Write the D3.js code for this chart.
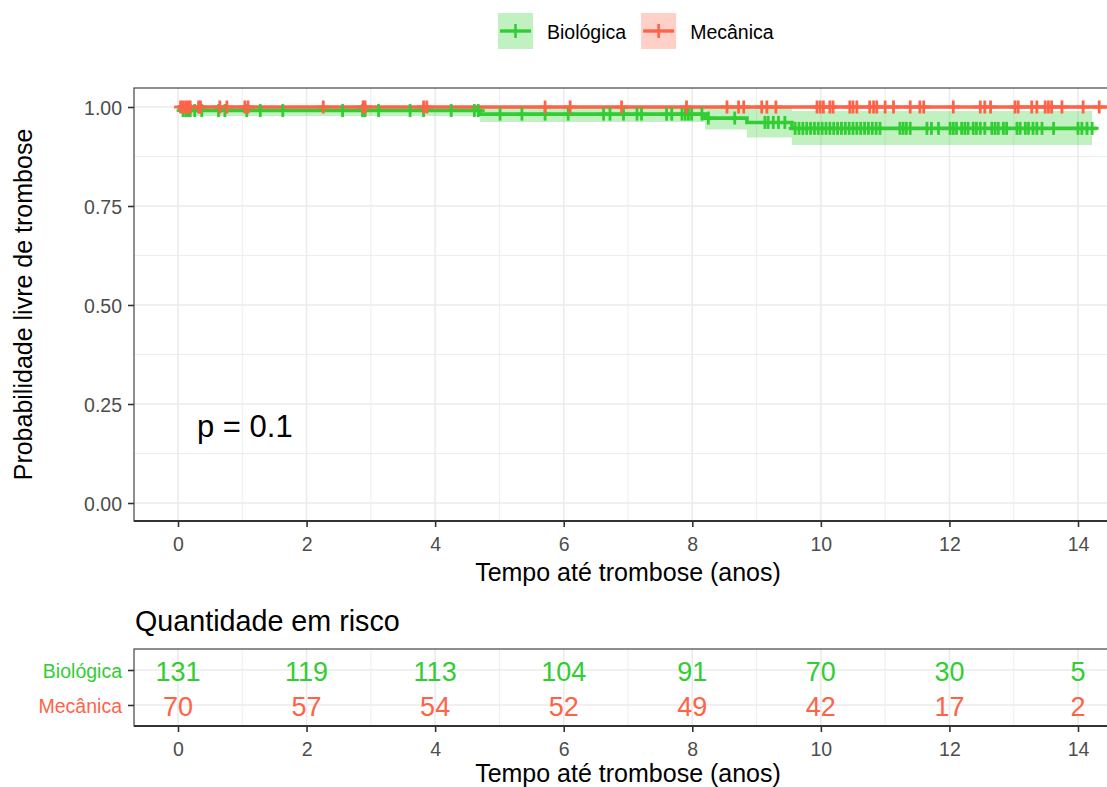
<!DOCTYPE html>
<html>
<head>
<meta charset="utf-8">
<script src="https://cdn.jsdelivr.net/npm/d3@7"></script>
<style>
  html, body { margin: 0; padding: 0; background: #fff; }
  svg { display: block; font-family: "Liberation Sans", Arial, Helvetica, sans-serif; }
</style>
</head>
<body>
<svg id="chart" width="1107" height="787"></svg>
<script>
// ---- Groups and colours ----
const groups = ["Biológica", "Mecânica"];
const groupColors = ["#32CD32", "#FF6347"];

// ---- Kaplan–Meier curve: Biológica ----
const bioEventTimes = [0.05, 4.70, 8.20, 8.85, 9.55];
const bioSurv       = [0.991, 0.982, 0.972, 0.961, 0.946];
const bioLower      = [0.977, 0.962, 0.943, 0.923, 0.904];
const bioUpper      = [1.000, 1.000, 1.000, 1.000, 0.990];
const bioLineEnd = 14.30;
const bioBandEnd = 14.22;
const bioCensor = [
  0.08, 0.12, 0.16, 0.19, 0.26, 0.37, 0.63, 0.73, 1.07, 1.28, 1.63, 2.56, 2.87, 2.91,
  3.12, 3.61, 3.82, 4.25, 4.61, 4.67, 5.01, 5.35, 5.71, 6.07, 6.62, 6.72, 6.93, 7.14,
  7.21, 7.60, 7.68, 7.84, 7.89, 7.94, 7.99, 8.15, 8.25, 8.66, 9.13, 9.18, 9.26, 9.34,
  9.44, 9.60, 9.66, 9.72, 9.78, 9.84, 9.90, 9.96, 10.02, 10.08, 10.14, 10.20, 10.26,
  10.32, 10.38, 10.44, 10.50, 10.56, 10.62, 10.68, 10.74, 10.80, 10.86, 10.92, 11.23,
  11.28, 11.33, 11.39, 11.65, 11.72, 11.83, 12.01, 12.06, 12.11, 12.19, 12.24, 12.29,
  12.37, 12.42, 12.48, 12.55, 12.66, 12.71, 12.76, 12.84, 12.89, 13.05, 13.10, 13.18,
  13.23, 13.30, 13.36, 13.44, 13.62, 14.00, 14.06, 14.14, 14.22
];

// ---- Kaplan–Meier curve: Mecânica (no events) ----
const mecEventTimes = [];
const mecSurv = [];
const mecLineEnd = 14.45;
const mecCensor = [
  0.04, 0.08, 0.12, 0.16, 0.19, 0.32, 0.35, 0.65, 0.76, 1.04, 1.09, 2.26, 2.88, 2.91,
  3.82, 3.87, 5.71, 6.10, 6.90, 7.91, 8.54, 8.72, 8.80, 9.08, 9.16, 9.30, 9.94, 9.99,
  10.04, 10.14, 10.19, 10.45, 10.50, 10.56, 10.76, 10.82, 10.87, 11.00, 11.13, 11.39,
  11.54, 11.60, 12.06, 12.48, 12.55, 12.64, 13.02, 13.07, 13.28, 13.36, 13.49, 13.54,
  13.59, 13.75, 14.08, 14.33
];

// ---- Axis ticks and text ----
const xTicks = [0, 2, 4, 6, 8, 10, 12, 14];
const xMinorTicks = [1, 3, 5, 7, 9, 11, 13];
const yTicks = [0, 0.25, 0.5, 0.75, 1];
const yMinorTicks = [0.125, 0.375, 0.625, 0.875];
const pValueLabel = "p = 0.1";
const xTitle = "Tempo até trombose (anos)";
const yTitle = "Probabilidade livre de trombose";
const riskTitle = "Quantidade em risco";

// ---- Number at risk ----
const riskTimes = [0, 2, 4, 6, 8, 10, 12, 14];
const bioRisk = [131, 119, 113, 104, 91, 70, 30, 5];
const mecRisk = [70, 57, 54, 52, 49, 42, 17, 2];

// ================= drawing =================
const svg = d3.select("#chart");
svg.append("rect").attr("width", 1107).attr("height", 787).attr("fill", "#fff");

const x = d3.scaleLinear().domain([0, 14]).range([178, 1078]);
const y = d3.scaleLinear().domain([0, 1]).range([503, 107]);

const main = { left: 134, top: 88, bottom: 521, right: 1122 };
const risk = { left: 134, top: 649, bottom: 726, right: 1122 };

const gridMajor = "#EBEBEB";
const textGrey = "#4D4D4D";
const tickFont = 19.5;
const titleFont = 25;

// clip for the survival panel
svg.append("clipPath").attr("id", "mainClip")
  .append("rect").attr("x", main.left).attr("y", main.top)
  .attr("width", main.right - main.left).attr("height", main.bottom - main.top);

// grid (main)
const gMain = svg.append("g");
gMain.selectAll(".xminor").data(xMinorTicks).join("line")
  .attr("x1", d => x(d)).attr("x2", d => x(d)).attr("y1", main.top).attr("y2", main.bottom)
  .attr("stroke", gridMajor).attr("stroke-width", 0.9);
gMain.selectAll(".yminor").data(yMinorTicks).join("line")
  .attr("x1", main.left).attr("x2", main.right).attr("y1", d => y(d)).attr("y2", d => y(d))
  .attr("stroke", gridMajor).attr("stroke-width", 0.9);
gMain.selectAll(".xmajor").data(xTicks).join("line")
  .attr("x1", d => x(d)).attr("x2", d => x(d)).attr("y1", main.top).attr("y2", main.bottom)
  .attr("stroke", gridMajor).attr("stroke-width", 1.6);
gMain.selectAll(".ymajor").data(yTicks).join("line")
  .attr("x1", main.left).attr("x2", main.right).attr("y1", d => y(d)).attr("y2", d => y(d))
  .attr("stroke", gridMajor).attr("stroke-width", 1.6);

// survival step helpers
function stepPoints(times, surv, end) {
  const pts = [[0, 1]];
  times.forEach((t, i) => pts.push([t, surv[i]]));
  pts.push([end, surv.length ? surv[surv.length - 1] : 1]);
  return pts;
}
function survAt(times, surv, t) {
  let s = 1;
  times.forEach((et, i) => { if (et <= t) s = surv[i]; });
  return s;
}

const plot = svg.append("g").attr("clip-path", "url(#mainClip)");

// confidence band (Biológica)
const bandPts = bioEventTimes.map((t, i) => ({ t, lo: bioLower[i], hi: bioUpper[i] }));
bandPts.push({ t: bioBandEnd, lo: bioLower[bioLower.length - 1], hi: bioUpper[bioUpper.length - 1] });
plot.append("path").datum(bandPts)
  .attr("d", d3.area().curve(d3.curveStepAfter)
    .x(d => x(d.t)).y0(d => y(d.lo)).y1(d => y(d.hi)))
  .attr("fill", groupColors[0]).attr("fill-opacity", 0.3);

const stepLine = d3.line().curve(d3.curveStepAfter).x(d => x(d[0])).y(d => y(d[1]));
const curves = [
  { pts: stepPoints(bioEventTimes, bioSurv, bioLineEnd), color: groupColors[0] },
  { pts: stepPoints(mecEventTimes, mecSurv, mecLineEnd), color: groupColors[1] }
];
curves.forEach(c => {
  plot.append("path").datum(c.pts).attr("d", stepLine)
    .attr("fill", "none").attr("stroke", c.color).attr("stroke-width", 3.6);
});

// censoring marks (+)
const censorSets = [
  { times: bioCensor, ev: bioEventTimes, s: bioSurv, color: groupColors[0] },
  { times: mecCensor, ev: mecEventTimes, s: mecSurv, color: groupColors[1] }
];
const half = 6.5;
censorSets.forEach(cs => {
  const g = plot.append("g").attr("stroke", cs.color).attr("stroke-width", 2.8);
  cs.times.forEach(t => {
    const cx = x(t), cy = y(survAt(cs.ev, cs.s, t));
    g.append("line").attr("x1", cx).attr("x2", cx).attr("y1", cy - half).attr("y2", cy + half);
    g.append("line").attr("x1", cx - half).attr("x2", cx + half).attr("y1", cy).attr("y2", cy);
  });
});

// panel border
svg.append("rect").attr("x", main.left).attr("y", main.top)
  .attr("width", main.right - main.left).attr("height", main.bottom - main.top)
  .attr("fill", "none").attr("stroke", "#333333").attr("stroke-width", 1.1);
svg.append("line").attr("x1", main.left).attr("x2", main.right)
  .attr("y1", main.bottom).attr("y2", main.bottom).attr("stroke", "#333").attr("stroke-width", 1.8);

// axes (main)
const yAxis = d3.axisLeft(y).tickValues(yTicks).tickFormat(d3.format(".2f")).tickSize(6).tickPadding(6);
const gy = svg.append("g").attr("transform", `translate(${main.left},0)`).call(yAxis);
gy.select(".domain").remove();
gy.selectAll(".tick line").attr("stroke", "#333").attr("stroke-width", 1.6);
gy.selectAll(".tick text").attr("fill", textGrey).attr("font-size", tickFont).attr("dy", "0.36em")
  .attr("font-family", "Liberation Sans, Arial, sans-serif");

const xAxis = d3.axisBottom(x).tickValues(xTicks).tickFormat(d3.format("d")).tickSize(6).tickPadding(10);
const gx = svg.append("g").attr("transform", `translate(0,${main.bottom})`).call(xAxis);
gx.select(".domain").remove();
gx.selectAll(".tick line").attr("stroke", "#333").attr("stroke-width", 1.6);
gx.selectAll(".tick text").attr("fill", textGrey).attr("font-size", tickFont)
  .attr("font-family", "Liberation Sans, Arial, sans-serif");

// titles
svg.append("text").attr("x", (main.left + main.right) / 2).attr("y", 581)
  .attr("text-anchor", "middle").attr("font-size", titleFont).attr("fill", "#000").text(xTitle);
svg.append("text").attr("transform", `translate(32,${(main.top + main.bottom) / 2}) rotate(-90)`)
  .attr("text-anchor", "middle").attr("font-size", titleFont).attr("fill", "#000").text(yTitle);

// p value
svg.append("text").attr("x", 197).attr("y", 437).attr("font-size", 31).attr("fill", "#000").text(pValueLabel);

// legend
const legend = svg.append("g");
let lx = 498;
groups.forEach((gname, i) => {
  const item = legend.append("g").attr("transform", `translate(${lx},13)`);
  item.append("rect").attr("width", 35).attr("height", 36)
    .attr("fill", groupColors[i]).attr("fill-opacity", 0.3);
  item.append("line").attr("x1", 2).attr("x2", 33).attr("y1", 18).attr("y2", 18)
    .attr("stroke", groupColors[i]).attr("stroke-width", 3.4);
  item.append("line").attr("x1", 17.5).attr("x2", 17.5).attr("y1", 11).attr("y2", 25)
    .attr("stroke", groupColors[i]).attr("stroke-width", 2.6);
  const t = item.append("text").attr("x", 49).attr("y", 25.5).attr("font-size", tickFont)
    .attr("fill", "#000").text(gname);
  lx += 49 + t.node().getComputedTextLength() + 15;
});

// ================= risk table =================
svg.append("text").attr("x", 135).attr("y", 631).attr("font-size", 28.7).attr("fill", "#000").text(riskTitle);

const ry = d3.scalePoint().domain(groups).range([670, 705]);

const gRisk = svg.append("g");
gRisk.selectAll(".rxminor").data(xMinorTicks).join("line")
  .attr("x1", d => x(d)).attr("x2", d => x(d)).attr("y1", risk.top).attr("y2", risk.bottom)
  .attr("stroke", gridMajor).attr("stroke-width", 0.9);
gRisk.selectAll(".rxmajor").data(xTicks).join("line")
  .attr("x1", d => x(d)).attr("x2", d => x(d)).attr("y1", risk.top).attr("y2", risk.bottom)
  .attr("stroke", gridMajor).attr("stroke-width", 1.6);
gRisk.selectAll(".rymajor").data(groups).join("line")
  .attr("x1", risk.left).attr("x2", risk.right).attr("y1", d => ry(d)).attr("y2", d => ry(d))
  .attr("stroke", gridMajor).attr("stroke-width", 1.6);

const riskRows = [bioRisk, mecRisk];
riskRows.forEach((vals, gi) => {
  gRisk.append("g").selectAll("text").data(vals).join("text")
    .attr("x", (d, i) => x(riskTimes[i])).attr("y", ry(groups[gi])).attr("dy", "0.42em")
    .attr("text-anchor", "middle").attr("font-size", 27).attr("fill", groupColors[gi])
    .text(d => d);
});

svg.append("rect").attr("x", risk.left).attr("y", risk.top)
  .attr("width", risk.right - risk.left).attr("height", risk.bottom - risk.top)
  .attr("fill", "none").attr("stroke", "#333333").attr("stroke-width", 1.1);
svg.append("line").attr("x1", risk.left).attr("x2", risk.right)
  .attr("y1", risk.bottom).attr("y2", risk.bottom).attr("stroke", "#333").attr("stroke-width", 1.8);

const ryAxis = d3.axisLeft(ry).tickSize(6).tickPadding(6);
const gry = svg.append("g").attr("transform", `translate(${risk.left},0)`).call(ryAxis);
gry.select(".domain").remove();
gry.selectAll(".tick line").attr("stroke", "#333").attr("stroke-width", 1.6);
gry.selectAll(".tick text").attr("font-size", tickFont).attr("dy", "0.4em")
  .attr("font-family", "Liberation Sans, Arial, sans-serif")
  .attr("fill", d => groupColors[groups.indexOf(d)]);

const rxAxis = d3.axisBottom(x).tickValues(xTicks).tickFormat(d3.format("d")).tickSize(6).tickPadding(10);
const grx = svg.append("g").attr("transform", `translate(0,${risk.bottom})`).call(rxAxis);
grx.select(".domain").remove();
grx.selectAll(".tick line").attr("stroke", "#333").attr("stroke-width", 1.6);
grx.selectAll(".tick text").attr("fill", textGrey).attr("font-size", tickFont)
  .attr("font-family", "Liberation Sans, Arial, sans-serif");

svg.append("text").attr("x", (risk.left + risk.right) / 2).attr("y", 782)
  .attr("text-anchor", "middle").attr("font-size", titleFont).attr("fill", "#000").text(xTitle);
</script>
</body>
</html>
